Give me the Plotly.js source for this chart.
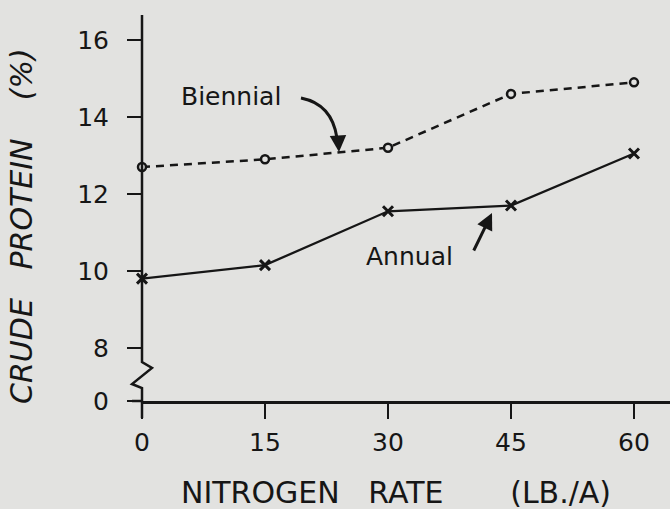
<!DOCTYPE html>
<html>
<head>
<meta charset="utf-8">
<script src="https://cdn.plot.ly/plotly-3.0.1.min.js"></script>
<style>html,body{margin:0;padding:0;background:#e2e2e0;}</style>
</head>
<body>
<div id="chart" style="width:670px;height:509px;"></div>
<script>
// Data
const nitrogenRate = [0, 15, 30, 45, 60];
const biennial = [12.7, 12.9, 13.2, 14.6, 14.9];
const annual = [9.8, 10.15, 11.55, 11.7, 13.05];
const xTicks = [0, 15, 30, 45, 60];
const yTickLabels = ['0', '8', '10', '12', '14', '16'];
// Broken axis: "0" label placed at the bottom of the visible range
const yBreakZero = 6.62;
const yTickVals = [yBreakZero, 8, 10, 12, 14, 16];

const ink = '#161616';
const bg = '#e2e2e0';
const FONT = 'DejaVu Sans, sans-serif';

// pixel -> paper helpers for decorations
const L = 142, W = 670 - 142, H = 401 - 15;
const px = v => +((v - L) / W).toFixed(4);
const py = v => +((401 - v) / H).toFixed(4);
const P = (x, y) => px(x) + ',' + py(y);

const traces = [
  {
    x: nitrogenRate, y: biennial, mode: 'lines+markers', cliponaxis: false,
    line: {color: ink, width: 2.5, dash: '8px,6px'},
    marker: {symbol: 'circle', size: 8, color: bg, line: {color: ink, width: 2.5}},
    name: 'Biennial', showlegend: false
  },
  {
    x: nitrogenRate, y: annual, mode: 'lines+markers', cliponaxis: false,
    line: {color: ink, width: 2.3},
    marker: {symbol: 'x-thin-open', size: 10, color: ink, line: {color: ink, width: 3}},
    name: 'Annual', showlegend: false
  }
];

const txt = (x, y, text, size, extra) => Object.assign({
  xref: 'paper', yref: 'paper', x: px(x), y: py(y), text: text,
  xanchor: 'center', yanchor: 'middle', showarrow: false,
  font: {size: size, family: FONT, color: ink}
}, extra || {});

const layout = {
  width: 670, height: 509,
  margin: {l: 142, r: 0, t: 15, b: 108},
  paper_bgcolor: bg, plot_bgcolor: bg,
  font: {family: FONT, color: ink},
  xaxis: {
    range: [0, 64.39], tickvals: xTicks, ticktext: xTicks.map(String),
    showgrid: false, zeroline: false, showline: true, linecolor: ink, linewidth: 2.5,
    ticks: 'outside', ticklen: 15, tickwidth: 2.5, tickcolor: ink,
    tickfont: {size: 25, family: FONT, color: ink}, ticklabelstandoff: 2
  },
  yaxis: {
    range: [yBreakZero, 16.65], tickvals: yTickVals, ticktext: yTickLabels,
    showgrid: false, zeroline: false, showline: false,
    ticks: 'outside', ticklen: 14, tickwidth: 2.5, tickcolor: ink,
    tickfont: {size: 25, family: FONT, color: ink}, ticklabelstandoff: 13
  },
  shapes: [
    // y axis line with break
    {type: 'path', xref: 'paper', yref: 'paper',
     path: 'M' + P(142, 15) + ' L' + P(142, 362) + ' L' + P(152, 368) + ' L' + P(132, 384) + ' L' + P(142, 388) + ' L' + P(142, 418),
     line: {color: ink, width: 2.5}},
    // x axis overhang left of y axis
    {type: 'line', xref: 'paper', yref: 'paper', x0: px(132), x1: px(142), y0: py(401), y1: py(401),
     line: {color: ink, width: 2.5}},
    // curved arrow for Biennial
    {type: 'path', xref: 'paper', yref: 'paper',
     path: 'M' + P(301, 98) + ' Q' + P(332, 104) + ' ' + P(337, 138),
     line: {color: ink, width: 3}}
  ],
  annotations: [
    txt(22, 226, '<i>CRUDE   PROTEIN    (%)</i>', 30, {textangle: -90}),
    txt(396, 492, 'NITROGEN   RATE       (LB./A)', 30),
    txt(231, 97, 'Biennial', 25),
    txt(409, 256, 'Annual', 25),
    // arrowhead for Biennial curve
    {xref: 'paper', yref: 'paper', x: px(339), y: py(152), ax: -1, ay: -16, text: '',
     showarrow: true, arrowhead: 2, arrowsize: 1.1, arrowwidth: 3, arrowcolor: ink, standoff: 0},
    // Annual arrow
    {xref: 'paper', yref: 'paper', x: px(492), y: py(213), ax: -19, ay: 39, text: '',
     showarrow: true, arrowhead: 2, arrowsize: 1.1, arrowwidth: 3, arrowcolor: ink, standoff: 0}
  ]
};

Plotly.newPlot('chart', traces, layout, {staticPlot: true, displayModeBar: false});
</script>
</body>
</html>
